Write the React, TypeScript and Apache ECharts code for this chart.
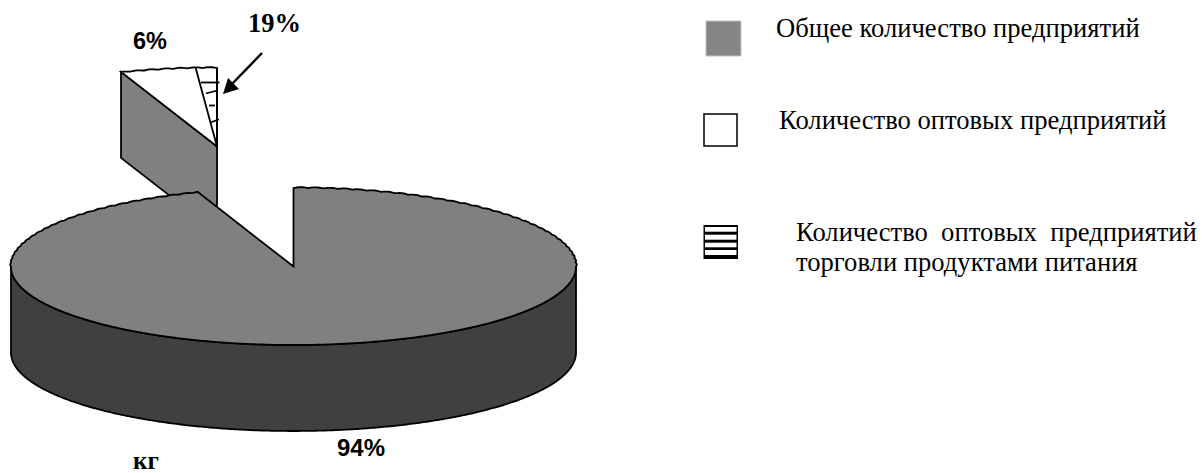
import React, { useEffect, useRef } from "react";
import * as echarts from "echarts";

// Sweep shares as measured on the picture's ellipse (percent of the full circle)
const pieSlices = ["Прочие предприятия", "Оптовые предприятия"];
const pieSweep = [94.5, 5.5];
// Share of the detached slice taken by the hatched part (percent, measured)
const hatchedShare = [22];
const dataLabels = ["6%", "19%", "94%"];
const unitLabel = "кг";
const legendLabels = [
  "Общее количество предприятий",
  "Количество оптовых предприятий",
  "Количество\u00A0 оптовых\u00A0 предприятий",
  "торговли продуктами питания",
];

const GRAY = "#808080";
const DARK = "#404040";
const CX = 293.5;
const CY = 266.5;
const RX = 282.5;
const RY = 78.5;
const DEPTH = 86;
const EXPLODE = { x: -76.5, y: -120 };
const LW = 1.8;

function pt(cx: number, cy: number, deg: number) {
  const t = (deg * Math.PI) / 180;
  // the upper rim of the reference has a slightly scalloped, hand-traced edge
  const upper = Math.sin(t) > 0 ? 1 : 0;
  const wob = upper * 0.9 * Math.abs(Math.sin((deg * Math.PI) / 3));
  return [cx + (RX + wob) * Math.cos(t), cy - (RY + wob) * Math.sin(t)];
}
function arc(cx: number, cy: number, from: number, to: number) {
  const n = Math.max(2, Math.ceil(Math.abs(to - from) / 0.5));
  const out: number[][] = [];
  for (let i = 0; i <= n; i++) out.push(pt(cx, cy, from + ((to - from) * i) / n));
  return out;
}
const poly = (points: number[][], fill: string) => ({
  type: "polygon",
  shape: { points },
  style: { fill, stroke: "#000", lineWidth: LW, lineJoin: "miter" },
});
const line = (x1: number, y1: number, x2: number, y2: number, w = LW) => ({
  type: "line",
  shape: { x1, y1, x2, y2 },
  style: { stroke: "#000", lineWidth: w },
});

function renderItem(params: any) {
  const sliceSweep = (pieSweep[1] / 100) * 360;
  if (params.dataIndex === 0) {
    // detached slice, drawn behind the pie
    const ax = CX + EXPLODE.x;
    const ay = CY + EXPLODE.y;
    const end = 90 + sliceSweep;
    const split = 90 + (sliceSweep * hatchedShare[0]) / 100;
    const left = pt(ax, ay, end);
    const top = pt(ax, ay, 90);
    const splitP = pt(ax, ay, split);
    const ticks = [
      [-16, -64, 2.5, -64],
      [-11, -53, 0, -56],
      [-8, -41, -2, -41],
      [-7, -24, 2, -27],
    ];
    return {
      type: "group",
      children: [
        poly([left, [ax, ay], [ax, ay + DEPTH], [left[0], left[1] + DEPTH]], GRAY),
        poly([[ax, ay], ...arc(ax, ay, 90, end)], "#fff"),
        line(ax, ay, splitP[0], splitP[1]),
        line(ax, ay, top[0], top[1]),
        ...ticks.map((t) => line(ax + t[0], ay + t[1], ax + t[2], ay + t[3])),
      ],
    };
  }
  const start = 90 + sliceSweep;
  const rim = arc(CX, CY, 180, 360);
  const lower = rim.map((p) => [p[0], p[1] + DEPTH]).reverse();
  return {
    type: "group",
    children: [
      poly([...rim, ...lower], DARK),
      poly([[CX, CY], ...arc(CX, CY, start, 450)], GRAY),
    ],
  };
}

export default function App() {
  const ref = useRef<HTMLDivElement>(null);
  useEffect(() => {
    document.body.style.margin = "0";
    const chart = echarts.init(ref.current!, undefined, { renderer: "svg" });
    const serif = "'Liberation Serif', serif";
    const sans = "'Liberation Sans', sans-serif";
    const label = (text: string, x: number, y: number, font: string, size: number, weight = "bold") => ({
      type: "text",
      x,
      y,
      style: { text, fill: "#000", font: `${weight} ${size}px ${font}`, textAlign: "left", textVerticalAlign: "middle" },
    });
    const hatchGaps = [
      [227, 231.7],
      [234.7, 239.7],
      [242.7, 247.3],
      [250, 255],
    ];
    chart.setOption({
      animation: false,
      backgroundColor: "#fff",
      tooltip: { show: false },
      series: [
        {
          type: "custom",
          coordinateSystem: "none",
          name: "Предприятия",
          data: pieSlices.map((name, i) => ({ name, value: pieSweep[pieSweep.length - 1 - i] })),
          renderItem,
          silent: true,
        },
      ],
      graphic: [
        { type: "rect", shape: { x: 706, y: 21, width: 35, height: 35 }, style: { fill: "#858585", stroke: "#c4c4c4", lineWidth: 1 } },
        { type: "rect", shape: { x: 704, y: 114, width: 33, height: 32 }, style: { fill: "#fff", stroke: "#000", lineWidth: 1.5 } },
        { type: "rect", shape: { x: 703.5, y: 225, width: 34.5, height: 34 }, style: { fill: "#000" } },
        ...hatchGaps.map(([a, b]) => ({
          type: "rect",
          shape: { x: 705, y: a, width: 31.5, height: b - a },
          style: { fill: "#fff" },
        })),
        label(legendLabels[0], 776, 28, serif, 26.6, "normal"),
        label(legendLabels[1], 779, 120, serif, 26.6, "normal"),
        label(legendLabels[2], 796, 232, serif, 26.6, "normal"),
        label(legendLabels[3], 796, 262, serif, 26.6, "normal"),
        label(dataLabels[0], 133, 41, sans, 23.5),
        label(dataLabels[1], 248, 23, serif, 26.5),
        label(dataLabels[2], 337, 447, sans, 24),
        label(unitLabel, 133, 460, serif, 25),
        { type: "line", shape: { x1: 262, y1: 53, x2: 232, y2: 84 }, style: { stroke: "#000", lineWidth: 2.5 } },
        { type: "polygon", shape: { points: [[223, 94], [228, 78], [239, 89]] }, style: { fill: "#000" } },
      ],
    });
    return () => chart.dispose();
  }, []);
  return <div ref={ref} style={{ width: 1202, height: 473 }} />;
}
